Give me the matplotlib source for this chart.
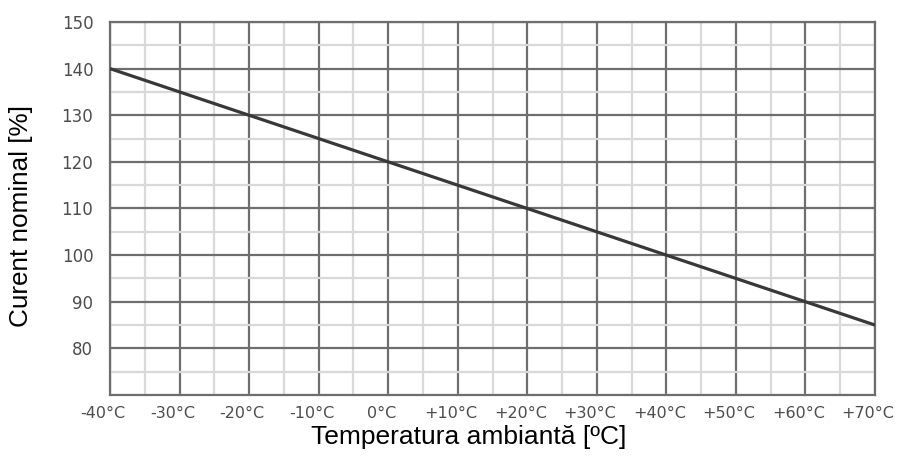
import matplotlib
matplotlib.use("Agg")
import matplotlib.pyplot as plt
from matplotlib.ticker import MultipleLocator
from matplotlib.transforms import ScaledTranslation

temps = [-40, 70]
current = [140, 85]
x_ticks = [-40, -30, -20, -10, 0, 10, 20, 30, 40, 50, 60, 70]
x_tick_labels = ["-40°C", "-30°C", "-20°C", "-10°C", "0°C", "+10°C", "+20°C",
                 "+30°C", "+40°C", "+50°C", "+60°C", "+70°C"]
y_ticks = [80, 90, 100, 110, 120, 130, 140, 150]

fig = plt.figure(figsize=(8.98, 4.59), dpi=100)
ax = fig.add_axes([110/898, 1-395/459, 765/898, 373/459])

ax.set_xlim(-40, 70)
ax.set_ylim(70, 150)
ax.xaxis.set_minor_locator(MultipleLocator(5))
ax.yaxis.set_minor_locator(MultipleLocator(5))
ax.set_xticks(x_ticks)
ax.set_xticklabels(x_tick_labels)
ax.set_yticks(y_ticks)

ax.grid(which="minor", color="#d9d9d9", lw=1.6, zorder=0)
ax.grid(which="major", color="#6e6e6e", lw=1.6, zorder=1)
ax.set_axisbelow(True)
for s in ax.spines.values():
    s.set_color("#6e6e6e")
    s.set_linewidth(1.6)

ax.plot(temps, current, color="#383838", lw=2.3, zorder=3, solid_capstyle="butt")

ax.tick_params(which="both", length=0)
ax.tick_params(axis="x", pad=8, labelsize=11.5, labelcolor="#4d4d4d")
ax.tick_params(axis="y", pad=12, labelsize=12, labelcolor="#4d4d4d")
offset = ScaledTranslation(-7/100, 0, fig.dpi_scale_trans)
for lbl in ax.get_xticklabels():
    lbl.set_transform(lbl.get_transform() + offset)

ax.set_xlabel("Temperatura ambiantă [ºC]", fontsize=19, family="Liberation Sans", color="black")
ax.set_ylabel("Curent nominal [%]", fontsize=18.8, family="Liberation Sans", color="black")
ax.xaxis.set_label_coords(0.469, -0.08)
ax.yaxis.set_label_coords(-0.1, 0.48)

fig.savefig("out.png", dpi=100)
